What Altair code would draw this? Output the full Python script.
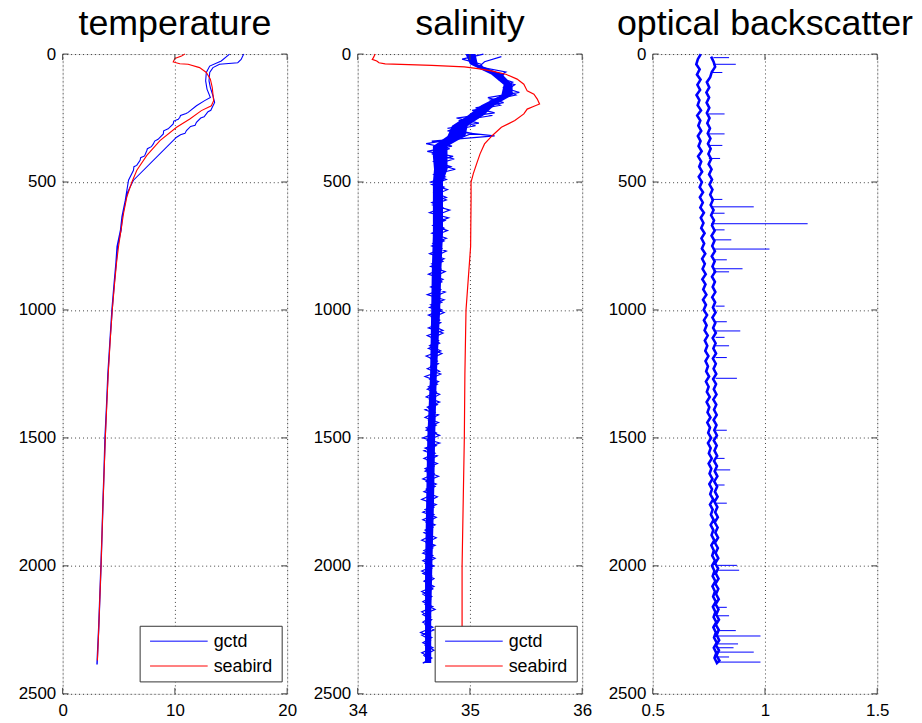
import altair as alt
import pandas as pd

FONT = "Liberation Sans"
titles = ["temperature", "salinity", "optical backscatter"]
x_domains = [[0, 20], [34, 36], [0.5, 1.5]]
x_ticks = [[0, 10, 20], [34, 35, 36], [0.5, 1, 1.5]]
depth_domain = [0, 2500]
depth_ticks = [0, 500, 1000, 1500, 2000, 2500]
series_names = ["gctd", "seabird"]
series_colors = ["#0000ff", "#ff0000"]

# ---------------- temperature ----------------
temp_gctd_down_depth = [0, 21, 34, 40, 53, 72, 105, 131, 163, 189, 208, 220, 225, 234, 245, 250, 267, 278, 283,
                        299, 310, 315, 325, 493, 520, 540, 571, 635, 687, 752, 816, 900, 1000, 1125, 1250, 1375,
                        1500, 1625, 1750, 1875, 2000, 2120, 2240, 2383]
temp_gctd_down = [16.13, 15.90, 15.60, 13.98, 13.39, 13.10, 13.04, 13.16, 13.39, 13.54, 13.33, 13.20, 12.95, 12.80,
                  12.60, 12.30, 11.92, 11.80, 11.40, 11.03, 10.90, 10.50, 10.15, 6.31, 6.00, 5.80, 5.62, 5.32, 5.22,
                  4.90, 4.78, 4.60, 4.42, 4.22, 4.05, 3.92, 3.80, 3.70, 3.61, 3.52, 3.43, 3.33, 3.23, 3.08]
temp_gctd_up_depth = [2383, 2240, 2120, 2000, 1875, 1750, 1625, 1500, 1375, 1250, 1125, 1000, 900, 816, 752, 687,
                      635, 571, 493, 454, 440, 435, 415, 405, 398, 377, 370, 362, 351, 340, 333, 312, 300, 292,
                      273, 262, 255, 247, 240, 232, 228, 202, 182, 170, 137, 105, 72, 47, 27, 0]
temp_gctd_up = [3.05, 3.20, 3.30, 3.40, 3.50, 3.58, 3.68, 3.76, 3.90, 4.02, 4.20, 4.38, 4.57, 4.74, 4.84, 5.15,
                5.28, 5.58, 5.87, 6.31, 6.35, 6.60, 6.90, 6.95, 7.30, 7.50, 7.55, 7.90, 8.08, 8.20, 8.50, 8.97,
                9.00, 9.40, 9.85, 9.90, 10.30, 10.44, 10.50, 11.00, 11.18, 11.92, 12.65, 13.16, 12.86, 12.74,
                12.80, 13.10, 14.13, 14.87]
temp_sb_depth = [0, 8, 17, 31, 38, 40, 53, 72, 98, 131, 182, 202, 221, 254, 286, 338, 396, 454, 500, 558, 622,
                 687, 752, 816, 900, 1000, 1125, 1250, 1375, 1500, 1625, 1750, 1875, 2000, 2120, 2240, 2370]
temp_sb = [10.88, 10.59, 10.00, 9.85, 10.44, 11.18, 12.20, 12.80, 13.16, 13.33, 13.45, 13.25, 12.36, 11.33, 10.15,
           8.67, 7.50, 6.61, 6.17, 5.72, 5.43, 5.20, 4.98, 4.80, 4.62, 4.42, 4.23, 4.06, 3.93, 3.80, 3.70, 3.60,
           3.51, 3.42, 3.32, 3.22, 3.10]

# ---------------- gctd cast depths (shared by salinity and backscatter) ----------------
gctd_depth_down = [0, 20, 40, 60, 80, 100, 120, 140, 160, 180, 200, 220, 240, 260, 280, 300, 320, 340, 360, 380,
                   400, 420, 440, 460, 480, 500, 520, 540, 560, 580, 600, 620, 640, 660, 680, 700, 720, 740, 760,
                   780, 800, 820, 840, 860, 880, 900, 920, 940, 960, 980, 1000, 1020, 1040, 1060, 1080, 1100,
                   1120, 1140, 1160, 1180, 1200, 1220, 1240, 1260, 1280, 1300, 1320, 1340, 1360, 1380, 1400,
                   1420, 1440, 1460, 1480, 1500, 1520, 1540, 1560, 1580, 1600, 1620, 1640, 1660, 1680, 1700,
                   1720, 1740, 1760, 1780, 1800, 1820, 1840, 1860, 1880, 1900, 1920, 1940, 1960, 1980, 2000,
                   2020, 2040, 2060, 2080, 2100, 2120, 2140, 2160, 2180, 2200, 2220, 2240, 2260, 2280, 2300,
                   2320, 2340, 2360, 2380]
gctd_depth_up = [2370, 2350, 2330, 2310, 2290, 2270, 2250, 2230, 2210, 2190, 2170, 2150, 2130, 2110, 2090, 2070,
                 2050, 2030, 2010, 1990, 1970, 1950, 1930, 1910, 1890, 1870, 1850, 1830, 1810, 1790, 1770, 1750,
                 1730, 1710, 1690, 1670, 1650, 1630, 1610, 1590, 1570, 1550, 1530, 1510, 1490, 1470, 1450, 1430,
                 1410, 1390, 1370, 1350, 1330, 1310, 1290, 1270, 1250, 1230, 1210, 1190, 1170, 1150, 1130, 1110,
                 1090, 1070, 1050, 1030, 1010, 990, 970, 950, 930, 910, 890, 870, 850, 830, 810, 790, 770, 750,
                 730, 710, 690, 670, 650, 630, 610, 590, 570, 550, 530, 510, 490, 470, 450, 430, 410, 390, 370,
                 350, 330, 310, 290, 270, 250, 230, 210, 190, 170, 150, 130, 110, 90, 70, 50, 30, 10]

# ---------------- salinity ----------------
sal_gctd_down = [35.12, 34.93, 35.10, 35.12, 35.30, 35.26, 35.40, 35.33, 35.41, 35.18, 35.27, 35.02, 35.20, 34.90,
                 35.05, 34.80, 35.22, 34.66, 34.84, 34.62, 34.85, 34.68, 34.83, 34.70, 34.78, 34.65, 34.77, 34.68,
                 34.79, 34.66, 34.76, 34.64, 34.81, 34.69, 34.77, 34.66, 34.79, 34.67, 34.75, 34.64, 34.77, 34.66,
                 34.74, 34.63, 34.76, 34.67, 34.74, 34.62, 34.77, 34.65, 34.75, 34.63, 34.73, 34.66, 34.76, 34.62,
                 34.72, 34.64, 34.74, 34.61, 34.71, 34.65, 34.73, 34.60, 34.72, 34.63, 34.70, 34.61, 34.73, 34.62,
                 34.69, 34.60, 34.72, 34.61, 34.70, 34.58, 34.73, 34.60, 34.69, 34.59, 34.71, 34.60, 34.68, 34.58,
                 34.70, 34.61, 34.67, 34.57, 34.70, 34.60, 34.68, 34.58, 34.69, 34.60, 34.66, 34.57, 34.69, 34.59,
                 34.67, 34.58, 34.68, 34.57, 34.66, 34.59, 34.68, 34.57, 34.66, 34.58, 34.67, 34.57, 34.65, 34.58,
                 34.67, 34.56, 34.66, 34.58, 34.67, 34.57, 34.66, 34.58]
sal_gctd_up = [34.64, 34.59, 34.68, 34.60, 34.65, 34.57, 34.68, 34.60, 34.66, 34.58, 34.69, 34.60, 34.65, 34.58,
               34.67, 34.61, 34.68, 34.58, 34.66, 34.60, 34.69, 34.58, 34.67, 34.61, 34.70, 34.59, 34.67, 34.61,
               34.70, 34.58, 34.68, 34.62, 34.71, 34.59, 34.69, 34.61, 34.72, 34.60, 34.68, 34.62, 34.71, 34.59,
               34.70, 34.62, 34.73, 34.61, 34.70, 34.63, 34.72, 34.60, 34.71, 34.64, 34.73, 34.62, 34.71, 34.64,
               34.74, 34.62, 34.72, 34.65, 34.75, 34.63, 34.73, 34.66, 34.76, 34.63, 34.74, 34.66, 34.77, 34.64,
               34.75, 34.67, 34.78, 34.65, 34.75, 34.68, 34.78, 34.65, 34.76, 34.69, 34.79, 34.66, 34.77, 34.68,
               34.80, 34.67, 34.78, 34.70, 34.82, 34.67, 34.79, 34.69, 34.80, 34.66, 34.79, 34.68, 34.87, 34.70,
               34.86, 34.66, 34.82, 34.61, 34.90, 35.02, 34.80, 35.08, 34.88, 35.22, 35.05, 35.30, 35.16, 35.44,
               35.30, 35.38, 35.24, 35.32, 35.08, 35.13, 35.28]
# dense core of the gctd salinity trace
sal_core_depth = [0, 40, 80, 120, 160, 200, 240, 280, 320, 360, 400, 450, 500, 600, 700, 850, 1000, 1250, 1500,
                  1750, 2000, 2200, 2380]
sal_core_lo = [34.96, 35.00, 35.19, 35.30, 35.28, 35.10, 34.98, 34.84, 34.80, 34.67, 34.67, 34.68, 34.67, 34.67,
               34.67, 34.66, 34.655, 34.645, 34.62, 34.61, 34.60, 34.60, 34.60]
sal_core_hi = [35.05, 35.07, 35.29, 35.38, 35.38, 35.22, 35.12, 34.98, 34.96, 34.80, 34.80, 34.80, 34.76, 34.76,
               34.76, 34.745, 34.735, 34.705, 34.69, 34.68, 34.665, 34.655, 34.655]
sal_sb_depth = [0, 14, 21, 27, 34, 38, 44, 50, 57, 66, 79, 98, 118, 144, 157, 176, 195, 206, 215, 234, 260, 286,
                318, 351, 390, 428, 467, 500, 571, 752, 1000, 1250, 1500, 1750, 2000, 2250, 2380]
sal_sb = [34.156, 34.14, 34.13, 34.17, 34.19, 34.245, 34.66, 34.95, 35.07, 35.19, 35.32, 35.42, 35.48, 35.51,
          35.57, 35.60, 35.62, 35.56, 35.51, 35.48, 35.40, 35.28, 35.20, 35.13, 35.09, 35.06, 35.03, 35.01, 35.01,
          35.006, 34.965, 34.955, 34.95, 34.94, 34.93, 34.93, 34.925]

# ---------------- optical backscatter ----------------
bs_gctd_down = [.714, .701, .694, .709, .697, .713, .699, .711, .695, .708, .700, .715, .698, .712, .703, .716,
                .701, .713, .704, .718, .702, .716, .707, .720, .705, .719, .709, .724, .710, .723, .712, .728,
                .714, .726, .716, .731, .717, .729, .719, .734, .720, .732, .722, .736, .721, .735, .725, .739,
                .724, .737, .727, .742, .728, .740, .731, .745, .732, .743, .734, .748, .735, .746, .738, .751,
                .737, .749, .741, .754, .740, .752, .744, .757, .743, .755, .747, .760, .746, .758, .750, .763,
                .749, .761, .753, .766, .752, .764, .756, .769, .755, .767, .759, .771, .758, .770, .762, .774,
                .761, .772, .765, .777, .764, .775, .767, .779, .766, .777, .769, .781, .768, .779, .771, .783,
                .770, .781, .773, .785, .772, .783, .775, .786]
bs_gctd_up = [.797, .784, .795, .782, .796, .785, .794, .781, .795, .783, .793, .780, .794, .782, .792, .779,
              .793, .781, .791, .778, .792, .780, .790, .777, .791, .779, .789, .776, .790, .778, .788, .775,
              .789, .777, .787, .774, .788, .776, .786, .773, .787, .775, .785, .772, .786, .774, .784, .771,
              .785, .773, .783, .770, .784, .772, .782, .769, .783, .771, .781, .768, .782, .770, .780, .767,
              .781, .769, .779, .766, .780, .768, .778, .765, .779, .767, .777, .764, .778, .766, .776, .763,
              .777, .765, .775, .762, .776, .764, .773, .760, .771, .758, .768, .756, .766, .753, .764, .751,
              .762, .749, .760, .748, .758, .746, .757, .745, .755, .743, .753, .741, .752, .740, .751, .739,
              .752, .741, .756, .763, .778, .771, .760]
spike_depth = [14, 40, 72, 234, 312, 357, 408, 568, 597, 622, 663, 687, 726, 762, 804, 839, 851, 985, 1046, 1082,
               1107, 1140, 1186, 1267, 1470, 1580, 1625, 1684, 1755, 1998, 2017, 2162, 2195, 2253, 2274, 2305,
               2320, 2337, 2356, 2376]
spike_base = [.77, .77, .76, .75, .75, .75, .75, .76, .76, .76, .76, .77, .77, .77, .77, .77, .77, .78, .78, .78,
              .78, .78, .78, .78, .78, .78, .78, .78, .78, .79, .79, .79, .79, .79, .79, .79, .79, .79, .79, .79]
spike_peak = [.84, .87, .81, .82, .82, .81, .80, .81, .95, .82, 1.19, .82, .85, 1.02, .83, .90, .84, .82, .83, .89,
              .82, .84, .83, .875, .83, .82, .845, .82, .83, .875, .885, .83, .84, .87, .98, .88, .86, .95, .84, .98]


def rows(depths, values, src, start):
    return [{"depth": d, "v": v, "src": src, "seq": start + i} for i, (d, v) in enumerate(zip(depths, values))]


def profile_df(parts):
    out, n = [], 0
    for depths, values, src in parts:
        out += rows(depths, values, src, n)
        n += len(depths)
    return pd.DataFrame(out)


dfs = [
    profile_df([(temp_gctd_down_depth, temp_gctd_down, "gctd"), (temp_gctd_up_depth, temp_gctd_up, "gctd"),
                (temp_sb_depth, temp_sb, "seabird")]),
    profile_df([(gctd_depth_down, sal_gctd_down, "gctd"), (gctd_depth_up, sal_gctd_up, "gctd"),
                (sal_sb_depth, sal_sb, "seabird")]),
    profile_df([(gctd_depth_down, bs_gctd_down, "gctd"), (gctd_depth_up, bs_gctd_up, "gctd")]),
]
spikes = pd.DataFrame({"depth": spike_depth, "base": spike_base, "peak": spike_peak})
sal_core = pd.DataFrame({"depth": sal_core_depth, "lo": sal_core_lo, "hi": sal_core_hi})

W, H = 226, 644
TICK = 6
BOX = "#444444"
LINE_W = [1.1, 1.2, 2.6]
# legend box geometry inside the plot area (pixels)
LEG_X0, LEG_X1, LEG_Y0, LEG_Y1 = 78, 221, 576, 632
LEG_ROW_Y = [591, 616]
LEG_SYM_X0, LEG_SYM_X1, LEG_TXT_X = 88, 146, 152


def legend_layers():
    one = pd.DataFrame({"k": [0]})
    out = [alt.Chart(one).mark_rect(fill="white", stroke="#333333", strokeWidth=1).encode(
        x=alt.value(LEG_X0), x2=alt.value(LEG_X1), y=alt.value(LEG_Y0), y2=alt.value(LEG_Y1))]
    for name, col, yy in zip(series_names, series_colors, LEG_ROW_Y):
        d = pd.DataFrame({"name": [name]})
        out.append(alt.Chart(d).mark_rule(color=col, strokeWidth=1).encode(
            x=alt.value(LEG_SYM_X0), x2=alt.value(LEG_SYM_X1), y=alt.value(yy)))
        out.append(alt.Chart(d).mark_text(font=FONT, fontSize=18, color="#000000", align="left",
                                          baseline="middle").encode(
            text="name:N", x=alt.value(LEG_TXT_X), y=alt.value(yy + 1)))
    return out


def panel(i):
    xs = alt.Scale(domain=x_domains[i], nice=False, zero=False)
    ys = alt.Scale(domain=depth_domain, reverse=True, nice=False)
    xaxis = alt.Axis(values=x_ticks[i], format="~r", title=None, grid=True, gridDash=[1, 3], gridColor="#000000",
                     gridOpacity=0.75, ticks=False, domain=False, labelFont=FONT, labelFontSize=17,
                     labelColor="#000000", labelPadding=9, labelFlush=False)
    yaxis = alt.Axis(values=depth_ticks, format="~r", title=None, grid=True, gridDash=[1, 3], gridColor="#000000",
                     gridOpacity=0.75, ticks=False, domain=False, labelFont=FONT, labelFontSize=17,
                     labelColor="#000000", labelPadding=7, labelFlush=False)
    layers = []
    if i == 1:
        layers.append(alt.Chart(sal_core).mark_area(color="#0000ff", orient="horizontal", opacity=1).encode(
            x=alt.X("lo:Q", scale=xs, axis=xaxis), x2="hi:Q", y=alt.Y("depth:Q", scale=ys, axis=yaxis)))
    lines = alt.Chart(dfs[i]).mark_line(interpolate="linear").encode(
        x=alt.X("v:Q", scale=xs, axis=xaxis),
        y=alt.Y("depth:Q", scale=ys, axis=yaxis),
        color=alt.Color("src:N", scale=alt.Scale(domain=series_names, range=series_colors), legend=None),
        strokeWidth=alt.value(LINE_W[i]),
        detail="src:N",
        order="seq:Q",
    )
    layers.append(lines)
    if i == 2:
        layers.append(alt.Chart(spikes).mark_rule(color="#0000ff", strokeWidth=1).encode(
            x=alt.X("base:Q", scale=xs), x2="peak:Q", y=alt.Y("depth:Q", scale=ys)))
    ytk = pd.DataFrame({"depth": depth_ticks})
    xtk = pd.DataFrame({"v": x_ticks[i]})
    layers += [
        alt.Chart(ytk).mark_rule(color=BOX).encode(y=alt.Y("depth:Q", scale=ys), x=alt.value(0), x2=alt.value(TICK)),
        alt.Chart(ytk).mark_rule(color=BOX).encode(y=alt.Y("depth:Q", scale=ys), x=alt.value(W - TICK), x2=alt.value(W)),
        alt.Chart(xtk).mark_rule(color=BOX).encode(x=alt.X("v:Q", scale=xs), y=alt.value(H - TICK), y2=alt.value(H)),
        alt.Chart(xtk).mark_rule(color=BOX).encode(x=alt.X("v:Q", scale=xs), y=alt.value(0), y2=alt.value(TICK)),
    ]
    if i < 2:
        layers += legend_layers()
    return alt.layer(*layers).properties(
        width=W, height=H,
        title=alt.TitleParams(titles[i], font=FONT, fontSize=36, fontWeight="normal", color="#000000",
                              anchor="middle", offset=2),
    )


chart = alt.hconcat(panel(0), panel(1), panel(2), spacing=71, bounds="flush").resolve_scale(
    x="independent", y="independent"
).properties(
    padding={"left": 9, "top": -5, "right": 0, "bottom": 0}
).configure_view(stroke=BOX, strokeWidth=1).configure(background="white")

chart.save("out.html", embed_options={"renderer": "svg", "actions": False})
